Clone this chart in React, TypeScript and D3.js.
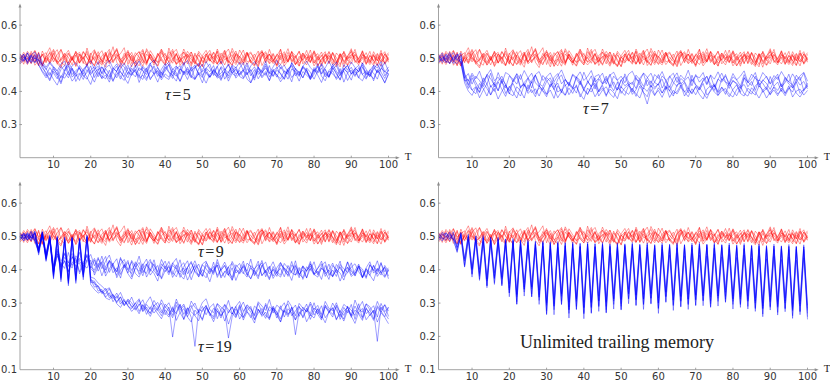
import React from "react";
import * as d3 from "d3";

// Values are in thousandths (per mille) of the plotted fraction, T = 1..100.
const X_TICKS = [10, 20, 30, 40, 50, 60, 70, 80, 90, 100];
const Y_TICKS_TOP = [0.3, 0.4, 0.5, 0.6];
const Y_TICKS_BOTTOM = [0.1, 0.2, 0.3, 0.4, 0.5, 0.6];

const RED_1 = [505,482,516,493,511,478,522,497,486,515,489,527,503,480,498,519,508,484,531,495,477,509,523,491,501,535,488,472,506,518,496,483,512,527,490,504,479,515,499,486,520,507,481,494,528,502,485,511,497,474,509,524,493,482,516,500,489,530,506,481,495,517,486,503,522,478,499,513,491,508,526,485,497,519,480,506,494,512,487,523,501,476,509,497,518,489,514,483,505,529,492,480,511,503,486,520,498,477,514,495];
const RED_2 = [492,513,488,507,524,496,481,510,532,499,485,471,503,516,494,522,487,505,479,512,526,498,484,517,490,503,514,481,496,520,508,475,499,523,486,511,493,478,517,504,489,515,527,497,482,506,519,488,474,501,513,495,486,528,502,480,509,521,492,484,507,518,490,479,511,524,497,486,515,493,481,503,529,491,508,476,512,500,487,518,495,510,483,521,498,486,506,517,479,494,512,488,523,496,481,509,492,515,484,503];
const RED_3 = [510,497,481,503,488,519,476,505,494,523,482,499,514,488,507,475,496,521,502,484,518,493,479,511,527,490,503,486,515,498,474,509,520,495,483,512,489,506,528,493,502,485,516,478,497,521,504,482,510,492,486,513,499,522,483,507,491,478,514,503,525,489,494,481,508,519,486,512,497,475,505,520,491,508,483,499,516,488,503,521,478,495,512,486,517,502,481,509,493,524,487,501,518,483,496,512,479,507,520,490];
const RED_4 = [487,506,498,515,479,494,512,486,520,503,491,476,508,524,497,485,513,501,479,516,493,482,507,519,488,511,530,496,484,502,518,491,477,505,523,498,486,514,492,481,509,527,494,503,479,512,496,485,521,505,488,499,517,482,506,525,493,480,511,498,486,514,503,491,478,509,520,495,488,513,502,477,493,519,508,485,497,524,490,506,514,482,499,510,487,475,504,518,496,483,511,497,522,486,508,493,478,516,500,489];
const RED_5 = [498,518,503,484,509,491,477,504,516,489,511,526,494,485,503,478,512,497,521,488,505,481,496,514,487,509,524,493,480,511,492,517,503,486,529,508,490,476,502,515,487,498,513,489,506,483,519,494,477,508,524,496,482,510,493,517,486,503,522,491,480,507,515,498,484,512,490,527,496,479,509,493,518,487,501,522,483,497,511,485,506,488,514,499,481,516,502,473,507,520,493,486,511,498,521,484,505,490,513,497];
const RED_6 = [483,496,521,507,490,515,482,501,489,512,526,493,508,479,497,517,486,502,514,491,478,510,495,484,520,506,527,489,498,513,501,477,492,516,485,523,505,488,496,480,531,497,484,509,518,493,476,502,515,487,508,491,519,500,486,512,528,495,481,506,493,518,487,476,505,521,499,513,484,497,516,503,488,522,490,477,509,496,525,486,500,519,485,507,498,481,514,492,479,510,503,486,497,517,489,508,493,524,482,499];
const RED_7 = [513,491,500,485,522,499,508,517,484,502,487,495,515,503,480,509,518,489,477,506,496,520,488,511,483,494,505,514,532,481,509,490,497,476,513,499,486,507,521,492,480,494,512,487,519,503,510,488,478,504,493,515,489,520,482,497,501,511,486,525,504,481,496,513,488,519,507,494,512,479,528,486,509,497,481,492,516,501,505,477,494,506,520,483,515,490,474,522,498,511,518,496,483,506,493,478,512,489,502,517];
const RED_8 = [495,508,486,521,497,478,513,490,506,527,503,488,479,514,494,510,485,519,501,482,523,504,492,473,515,486,511,496,505,524,484,507,520,493,479,513,498,487,526,509,500,521,482,495,504,512,481,516,491,476,514,492,506,484,499,522,478,493,515,505,486,511,519,497,474,506,516,483,495,509,496,514,489,511,502,520,494,480,507,496,477,499,506,518,495,479,513,490,505,500,527,488,504,481,509,493,515,498,486,512];

// tau = 5
const B5_1 = [498,512,487,509,503,481,462,447,472,455,438,466,479,449,470,452,433,468,476,451,465,444,474,456,437,469,483,458,445,472,460,478,447,436,468,486,453,464,441,474,457,439,469,477,450,462,441,472,481,448,467,443,458,476,437,463,480,454,446,471,487,451,466,440,469,455,477,444,461,473,452,438,468,480,457,445,474,463,436,459,476,452,467,442,483,461,447,471,456,434,468,479,451,463,444,472,458,481,447,466];
const B5_2 = [507,492,516,485,501,494,470,457,436,468,453,428,461,477,443,456,471,447,437,465,475,455,440,469,451,430,463,479,454,441,470,457,445,476,464,435,456,472,449,461,481,446,431,467,455,473,448,438,468,482,455,442,464,451,472,437,458,477,452,463,441,469,456,434,473,460,449,478,445,464,455,436,468,476,447,461,441,471,458,437,463,481,452,443,470,456,434,466,478,453,460,440,473,455,446,467,483,458,439,464];
const B5_3 = [488,504,496,511,519,493,483,466,485,471,450,476,461,489,467,446,478,462,482,456,467,490,452,471,480,458,441,469,485,461,450,474,492,463,451,479,470,445,467,484,459,447,475,466,488,454,468,480,450,463,490,470,453,444,475,464,483,456,469,448,466,486,460,474,451,465,491,457,447,470,481,460,452,487,467,454,477,464,443,472,458,484,465,447,474,489,455,466,479,452,470,460,485,450,464,478,456,468,488,461];
const B5_4 = [502,490,517,497,486,509,478,451,432,461,446,423,457,441,469,430,452,463,442,421,456,469,438,450,428,462,476,444,433,458,448,467,427,455,471,439,451,461,435,453,443,468,457,431,462,449,475,438,453,426,459,443,468,452,433,461,447,472,440,455,465,437,426,456,474,445,460,433,467,449,438,462,454,429,470,458,441,466,436,452,476,446,432,461,453,440,469,428,456,464,445,472,451,437,460,432,466,449,425,455];
const B5_5 = [494,513,483,505,498,515,490,473,489,475,462,483,491,458,477,486,468,452,481,492,466,476,455,482,494,469,460,485,474,451,480,490,463,472,458,484,495,471,454,478,488,466,477,452,482,493,461,473,486,459,470,483,448,475,491,467,456,480,471,488,463,450,477,490,471,459,483,455,474,494,468,479,457,486,467,449,476,491,472,460,484,454,471,492,466,478,451,481,464,489,472,458,486,467,449,479,471,490,458,474];
const B5_6 = [483,498,506,489,512,480,458,441,457,436,419,448,440,459,431,446,455,436,466,449,428,457,446,438,464,433,452,460,442,424,455,464,440,449,433,465,453,428,459,443,436,462,451,430,455,468,444,435,458,447,425,452,463,440,447,459,431,455,466,445,438,458,426,449,462,441,455,432,461,450,429,446,466,442,456,431,460,449,438,467,449,427,457,444,463,436,451,461,433,454,467,442,432,457,450,438,463,446,427,451];
const B5_7 = [513,501,491,508,488,497,481,469,448,474,461,440,467,481,451,463,472,445,457,477,442,465,474,454,444,471,460,437,466,479,456,444,471,463,439,459,477,452,443,468,481,457,446,467,459,436,463,475,453,442,471,459,478,446,455,468,440,462,474,451,460,479,447,466,438,457,471,453,464,443,474,456,437,468,460,448,472,457,441,466,455,471,444,463,476,452,436,467,458,473,449,461,479,441,466,455,437,470,460,452];

// tau = 7
const B7_1 = [496,510,486,504,517,495,489,437,409,441,418,398,433,448,413,427,402,438,421,392,429,445,410,424,400,433,449,416,405,430,441,412,425,396,436,420,407,443,426,403,431,414,440,399,423,446,411,429,404,435,417,426,398,442,420,408,434,413,428,451,410,431,401,424,444,414,427,395,437,419,406,432,446,411,423,399,439,428,409,434,421,397,442,414,430,403,435,425,406,445,416,428,400,439,422,411,430,443,402,425];
const B7_2 = [506,491,513,497,484,508,516,452,431,455,438,461,427,449,466,432,443,424,457,450,429,454,436,463,441,425,451,460,433,444,456,429,447,465,437,421,452,442,459,433,445,463,428,440,455,422,449,458,434,446,426,452,461,436,431,456,443,423,451,439,460,432,444,455,427,449,436,464,430,447,441,457,423,450,437,459,433,446,425,454,435,446,462,428,452,439,431,457,443,424,448,436,460,441,429,453,434,447,458,431];
const B7_3 = [489,499,509,483,501,514,488,426,401,388,412,381,404,423,390,409,377,400,419,394,387,414,402,380,420,396,408,386,413,391,404,379,417,399,388,410,394,420,383,406,393,412,384,403,418,389,407,397,378,414,400,391,410,385,416,396,362,406,387,411,395,417,382,403,392,413,399,384,408,390,412,396,379,405,419,388,402,409,392,383,406,416,393,386,411,398,380,403,414,392,404,387,410,395,417,383,401,407,389,403];
const B7_4 = [512,493,503,518,490,484,499,440,454,422,446,433,414,452,438,419,457,429,411,447,437,422,451,415,440,455,426,414,448,434,413,442,454,423,436,417,450,437,420,458,431,414,445,451,424,439,417,446,433,410,453,428,421,449,436,415,441,455,427,419,447,434,412,440,456,423,432,444,417,451,428,441,420,448,413,437,455,429,421,444,435,416,451,425,438,457,419,432,446,422,437,452,414,443,428,420,449,433,455,414];
const B7_5 = [486,503,494,509,496,511,502,455,419,404,393,424,409,386,418,400,429,406,385,416,398,380,413,422,394,405,384,418,402,392,423,407,381,400,420,390,408,415,392,376,410,398,421,386,404,414,393,382,412,401,388,418,405,394,380,411,400,421,390,403,382,408,416,393,399,419,386,405,396,413,391,377,407,417,398,388,412,401,384,406,420,394,386,410,399,389,417,405,380,398,413,392,404,387,409,419,395,383,403,415];
const B7_6 = [500,516,491,486,505,494,509,444,420,449,428,407,441,422,455,413,432,446,419,402,435,452,414,427,440,410,449,423,415,442,430,405,437,450,418,428,411,444,433,409,425,447,407,438,422,431,452,416,404,435,445,419,428,409,440,454,417,432,412,424,437,406,447,427,415,439,430,408,449,420,411,433,445,422,403,437,428,451,416,431,425,409,441,429,418,446,413,435,424,406,432,444,414,427,452,410,436,419,430,408];
const B7_7 = [503,487,498,513,492,507,485,432,436,404,414,396,426,409,389,421,402,432,394,413,424,399,386,420,408,429,393,411,401,384,418,427,398,407,389,423,412,395,431,404,390,416,425,399,410,385,420,402,428,394,411,421,391,405,430,397,384,417,407,423,395,413,402,386,420,426,398,410,392,416,404,424,389,401,419,396,413,391,426,402,387,412,421,400,392,417,427,397,409,389,415,403,423,393,411,398,429,394,407,420];

// tau = 9
const B9_1 = [497,510,489,503,495,458,509,434,498,404,455,410,437,421,449,400,434,417,444,405,429,396,421,440,392,417,433,386,410,428,379,407,422,391,414,431,398,382,418,403,425,392,379,410,421,388,404,427,396,381,413,402,386,422,398,377,409,419,390,401,426,384,405,395,373,412,423,388,400,380,415,404,391,425,384,398,410,375,418,401,389,411,424,383,399,380,416,403,392,421,381,407,396,374,414,400,387,419,394,406];
const B9_2 = [505,493,512,498,486,450,514,428,490,398,441,420,404,452,413,431,394,423,441,409,399,433,415,390,428,406,383,417,431,400,389,424,407,382,416,399,430,388,376,412,393,421,404,385,372,408,425,393,380,415,403,387,423,377,400,412,386,370,407,419,392,378,413,401,426,383,398,374,410,389,421,403,380,397,415,387,376,409,398,424,384,405,394,371,413,400,426,379,391,408,418,394,377,404,383,412,395,422,380,401];
const B9_3 = [489,502,508,493,511,466,503,444,494,413,463,426,447,410,439,421,452,404,430,446,412,437,403,426,444,408,395,433,418,390,428,408,441,398,389,424,413,394,431,406,385,419,434,393,409,427,389,416,402,380,422,405,391,431,398,414,384,425,404,390,416,396,432,386,407,421,379,403,424,394,384,419,405,392,427,383,410,397,418,387,405,426,388,399,379,416,403,392,423,385,398,417,378,406,424,390,402,384,413,395];
const B9_4 = [502,487,497,516,490,453,506,431,486,391,447,404,428,396,420,436,388,415,405,429,384,410,424,381,403,420,376,399,414,388,372,406,395,418,378,401,389,366,408,394,413,377,398,386,405,369,392,411,378,400,390,364,402,414,375,396,383,406,368,397,409,385,374,399,380,414,393,370,403,388,378,406,393,368,411,387,399,376,404,384,396,371,413,390,379,401,366,395,408,380,389,410,375,398,384,367,405,392,377,400];
const B9_5 = [494,508,490,500,510,462,511,441,499,409,458,414,451,423,405,442,426,410,448,416,434,407,441,399,428,414,393,437,406,422,398,419,386,414,432,395,418,381,408,426,391,413,401,430,385,407,421,396,384,417,426,392,410,383,403,423,395,377,415,402,388,420,409,382,400,428,390,411,381,406,422,398,384,414,403,376,412,395,425,387,404,418,380,401,420,391,409,386,424,399,389,412,402,378,416,397,427,390,408,381];
const B9_6 = [509,495,504,487,514,444,500,425,492,393,449,409,426,393,440,410,421,386,430,404,392,420,382,411,425,391,406,375,416,400,424,389,378,405,418,384,400,413,372,397,409,386,415,377,396,406,370,401,417,388,376,404,395,414,380,392,409,368,400,387,412,394,372,403,416,382,398,408,374,393,404,379,413,391,384,407,371,398,411,386,378,405,394,417,381,400,390,369,407,396,383,412,377,402,392,414,380,396,406,373];

// tau = 19
const B19_1 = [500,487,509,495,511,458,513,445,502,383,498,377,493,365,497,372,490,386,501,370,348,351,328,339,316,327,301,319,292,310,287,299,313,276,296,281,308,289,270,297,284,263,303,278,292,259,286,300,271,290,265,287,298,253,281,295,270,289,259,283,303,274,256,291,280,264,299,276,287,255,285,301,266,279,294,260,288,273,297,264,283,254,292,271,300,279,259,287,270,296,251,285,305,268,280,292,258,299,274,288];
const B19_2 = [491,505,497,514,489,465,506,438,495,376,491,370,488,358,490,365,484,379,494,362,362,336,341,318,331,304,322,297,311,290,283,301,275,296,266,289,270,285,300,272,258,284,268,297,250,279,293,263,276,248,289,270,259,297,279,246,274,288,264,295,258,277,290,251,282,269,294,256,286,272,244,283,298,262,276,291,255,280,268,301,266,249,288,275,258,294,271,252,290,279,263,298,254,283,270,248,292,276,259,287];
const B19_3 = [508,498,490,503,516,453,515,451,499,391,501,386,496,373,499,382,495,392,504,378,374,360,351,339,346,322,315,332,305,296,318,288,309,281,302,319,289,278,310,287,301,273,312,284,297,268,306,287,276,302,313,280,271,299,288,277,308,267,290,305,275,295,284,265,304,291,278,311,270,294,283,272,307,289,262,299,285,274,303,280,293,266,305,284,277,301,271,296,287,263,309,281,273,298,289,269,305,280,295,276];
const B19_4 = [496,510,502,488,507,449,510,433,493,372,495,364,487,352,492,359,481,370,497,356,341,330,336,316,310,324,298,287,307,293,275,287,268,294,279,260,285,268,253,280,264,289,248,272,283,258,243,279,265,252,285,268,244,276,261,281,237,270,256,290,249,274,263,240,281,260,273,250,284,264,243,277,259,287,250,269,280,244,266,255,283,263,241,274,286,252,268,246,278,261,239,273,284,250,265,279,243,271,257,238];
const B19_5 = [503,492,506,497,499,461,508,442,504,386,496,381,499,368,494,376,493,383,499,374,357,352,334,327,343,316,305,318,293,306,290,279,298,274,288,268,295,280,262,289,276,256,293,271,252,285,274,262,247,281,291,269,253,284,263,276,195,259,282,268,256,288,273,250,270,284,262,254,291,272,253,280,265,288,205,274,259,285,251,278,268,292,256,272,286,249,278,263,290,257,279,267,248,286,262,277,185,288,270,252];
const B19_6 = [498,503,494,509,485,456,504,436,497,380,493,374,491,361,495,369,487,377,498,367,366,346,332,345,322,314,330,305,296,312,301,282,293,310,279,270,292,302,278,265,288,198,273,295,266,286,257,170,281,275,294,262,284,277,255,296,280,267,290,252,272,293,281,261,299,273,254,289,279,265,292,258,283,270,249,288,276,297,261,285,274,255,294,279,266,290,251,276,287,262,291,270,258,297,280,253,287,272,295,260];

// unlimited trailing memory
const BU_1 = [502,486,511,493,514,459,506,414,499,386,493,380,495,352,488,373,489,358,484,331,486,304,479,341,482,327,476,317,480,277,474,290,478,305,471,279,476,290,469,271,477,286,468,292,475,280,472,306,469,290,474,314,470,309,473,297,468,314,472,285,469,319,473,295,467,305,474,298,468,309,471,308,475,298,466,314,473,312,468,305,470,298,465,305,471,286,467,282,469,290,464,287,470,285,463,277,468,276,462,269];
const BU_2 = [493,508,498,513,487,455,510,426,503,399,496,386,499,366,492,375,494,372,487,339,490,319,483,342,486,343,479,319,483,293,477,292,481,320,475,281,479,305,472,286,478,289,471,306,477,290,470,313,476,298,471,328,477,311,469,312,476,315,470,300,475,320,469,309,476,307,468,312,474,311,477,322,470,306,476,321,468,320,474,313,467,312,474,307,466,300,473,285,465,304,471,290,464,300,470,281,463,291,469,278];
const BU_3 = [510,495,489,505,496,468,499,408,489,388,487,372,484,352,481,361,483,352,476,330,479,297,471,333,475,319,466,308,470,268,462,280,466,297,458,269,462,282,454,267,461,271,452,289,459,272,450,296,457,281,449,312,456,294,447,295,454,299,445,283,452,304,444,292,451,290,442,295,449,294,444,306,441,289,448,305,439,304,446,296,437,295,444,290,435,283,442,267,433,287,440,272,431,282,438,262,429,273,436,259];
const BU_4 = [496,512,504,488,507,466,512,431,501,404,502,391,496,372,498,380,491,377,493,345,487,325,489,348,483,348,486,325,481,299,484,298,479,326,482,288,477,311,480,287,477,301,479,307,476,302,478,313,475,310,478,328,476,323,477,312,475,327,476,300,474,332,477,309,475,319,476,312,474,323,476,322,477,318,475,321,476,332,474,313,475,318,473,313,474,306,472,291,473,310,471,296,472,306,470,287,471,297,469,284];
const BU_5 = [487,503,510,498,492,452,504,410,492,378,493,368,486,346,488,356,481,353,483,319,477,296,479,321,473,319,475,296,470,265,473,265,468,295,471,255,466,280,469,253,466,269,468,275,465,270,467,282,464,279,467,298,465,292,466,281,464,297,465,269,463,302,466,278,464,288,465,281,463,292,465,292,466,287,464,291,465,302,463,282,464,287,462,282,463,275,461,259,462,279,460,264,461,274,459,254,460,265,458,251];
const BU_6 = [504,494,496,509,491,475,506,434,507,402,501,401,503,371,497,391,498,377,492,358,494,327,488,361,490,349,484,339,487,302,482,313,485,328,480,303,483,314,478,302,483,304,477,321,482,305,476,328,481,313,476,342,482,325,475,326,481,329,474,315,480,334,475,323,481,321,474,326,480,325,482,330,475,326,481,329,474,340,480,321,473,326,479,321,472,315,478,300,471,319,477,305,470,315,476,296,469,306,475,293];

const RED = [RED_1, RED_2, RED_3, RED_4, RED_5, RED_6, RED_7, RED_8];

type Label = { text: string; x: number; y: number; tau?: boolean };
type PanelCfg = {
  left: number; right: number; top: number; bottom: number;
  yMin: number; yTicks: number[]; blue: number[][]; labels: Label[];
};

const PANELS: PanelCfg[] = [
  { left: 20, right: 388.5, top: 3.6, bottom: 157.7, yMin: 0.2, yTicks: Y_TICKS_TOP,
    blue: [B5_1, B5_2, B5_3, B5_4, B5_5, B5_6, B5_7], labels: [{ text: "5", x: 165, y: 100, tau: true }] },
  { left: 438.5, right: 807.5, top: 3.6, bottom: 157.7, yMin: 0.2, yTicks: Y_TICKS_TOP,
    blue: [B7_1, B7_2, B7_3, B7_4, B7_5, B7_6, B7_7], labels: [{ text: "7", x: 583, y: 114, tau: true }] },
  { left: 20, right: 388.5, top: 181.5, bottom: 369.7, yMin: 0.1, yTicks: Y_TICKS_BOTTOM,
    blue: [B9_1, B9_2, B9_3, B9_4, B9_5, B9_6, B19_1, B19_2, B19_3, B19_4, B19_5, B19_6],
    labels: [{ text: "9", x: 198, y: 257, tau: true }, { text: "19", x: 198, y: 352, tau: true }] },
  { left: 438.5, right: 807.5, top: 181.5, bottom: 369.7, yMin: 0.1, yTicks: Y_TICKS_BOTTOM,
    blue: [BU_1, BU_2, BU_3, BU_4, BU_5, BU_6], labels: [{ text: "Unlimited trailing memory", x: 520, y: 348 }] },
];

const AXIS = "#8c8c8c";
const SERIF = "'Liberation Serif', 'DejaVu Serif', serif";
const SANS = "'DejaVu Sans', sans-serif";

function Panel({ p }: { p: PanelCfg }) {
  const yMax = 0.665;
  const x = d3.scaleLinear().domain([1, 100]).range([p.left, p.right]);
  const y = d3.scaleLinear().domain([p.yMin, yMax]).range([p.bottom, p.top]);
  const line = d3.line<number>().x((_, i) => x(i + 1)).y((d) => y(d / 1000));
  const ax = x(1);
  const ay = y(p.yMin);
  const xEnd = x(103);
  const yEnd = y(yMax);
  return (
    <g>
      {RED.map((s, i) => (
        <path key={"r" + i} d={line(s) || ""} fill="none" stroke="#ff0000" strokeOpacity={0.45} strokeWidth={0.85} />
      ))}
      {p.blue.map((s, i) => (
        <path key={"b" + i} d={line(s) || ""} fill="none" stroke="#0000ff" strokeOpacity={0.45} strokeWidth={0.85} />
      ))}
      <line x1={ax} y1={ay} x2={ax} y2={yEnd + 2} stroke={AXIS} strokeWidth={0.8} />
      <path d={`M${ax - 1.5},${yEnd + 4} L${ax},${yEnd} L${ax + 1.5},${yEnd + 4} Z`} fill={AXIS} />
      <line x1={ax} y1={ay} x2={xEnd - 2} y2={ay} stroke={AXIS} strokeWidth={0.8} />
      <path d={`M${xEnd - 4},${ay - 1.5} L${xEnd},${ay} L${xEnd - 4},${ay + 1.5} Z`} fill={AXIS} />
      <text x={xEnd + 5} y={ay + 2} fontFamily={SERIF} fontSize={11} fill="#222">T</text>
      {p.yTicks.map((t) => (
        <g key={"y" + t}>
          {t > p.yMin + 1e-9 && <line x1={ax - 0.5} x2={ax + 2} y1={y(t)} y2={y(t)} stroke={AXIS} strokeWidth={0.8} />}
          <text x={ax - 3} y={y(t)} dy="0.35em" textAnchor="end"
            fontFamily={SANS} fontSize={10} fill="#333">{t.toFixed(1)}</text>
        </g>
      ))}
      {X_TICKS.map((t) => (
        <g key={"x" + t}>
          <line x1={x(t)} x2={x(t)} y1={ay} y2={ay - 2} stroke={AXIS} strokeWidth={0.8} />
          <text x={x(t)} y={ay + 10.5} textAnchor="middle" fontFamily={SANS} fontSize={10} fill="#333">{t}</text>
        </g>
      ))}
      {p.labels.map((l, i) =>
        l.tau ? (
          <text key={"l" + i} x={l.x} y={l.y} fontFamily={SERIF} fontSize={16} fill="#222">
            <tspan fontStyle="italic">τ</tspan>
            <tspan dx={1.5}>=</tspan>
            <tspan dx={1.5}>{l.text}</tspan>
          </text>
        ) : (
          <text key={"l" + i} x={l.x} y={l.y} fontFamily={SERIF} fontSize={18} fill="#222">{l.text}</text>
        )
      )}
    </g>
  );
}

export default function App() {
  return (
    <svg width={830} height={383} style={{ position: "absolute", left: 0, top: 0, background: "#fff" }}>
      {PANELS.map((p, i) => (
        <Panel key={i} p={p} />
      ))}
    </svg>
  );
}
